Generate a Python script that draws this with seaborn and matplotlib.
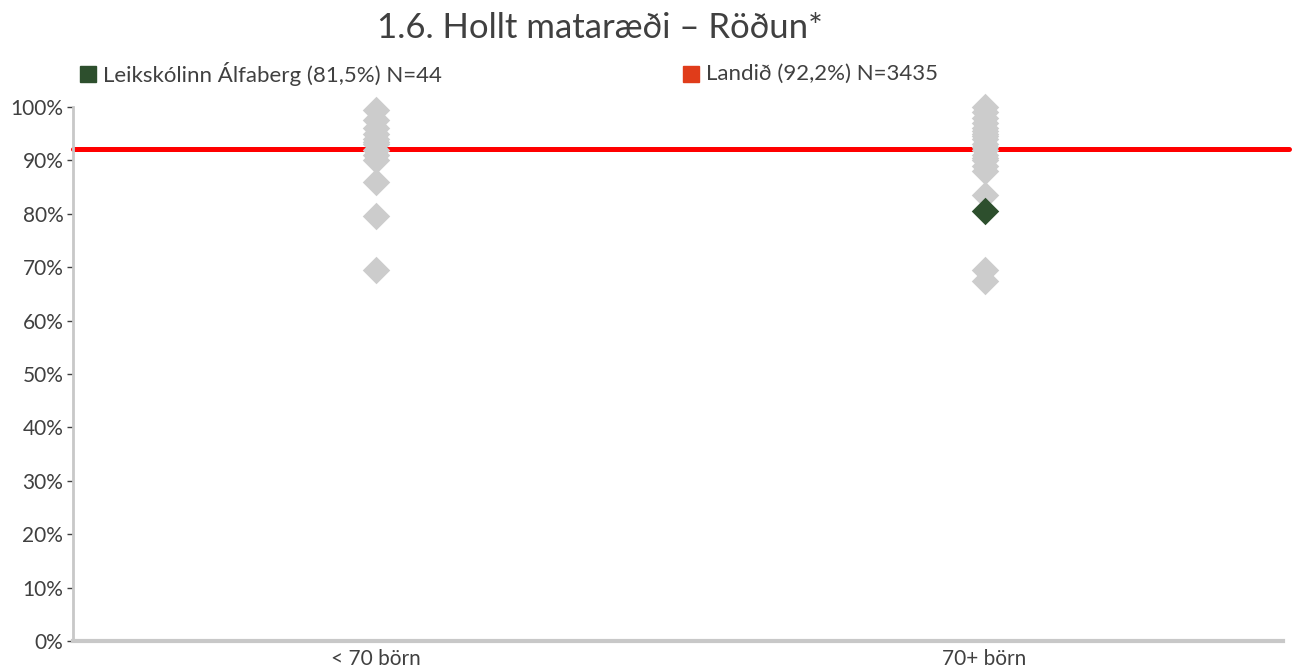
import numpy as np
import pandas as pd
import matplotlib
matplotlib.use("Agg")
import matplotlib.pyplot as plt
import seaborn as sns
from matplotlib.patches import Rectangle

# data
groups = ["< 70 börn", "70+ börn"]
small_vals = [99.5, 97.5, 96, 95, 94, 93.5, 93, 92, 91, 90, 86, 79.5, 69.5]
large_vals = [100, 99, 98, 97, 96, 95.5, 95, 94.5, 94, 93, 92.5, 92, 91,
              90.5, 90, 89, 88, 83.5, 69.5, 67.5]
school_group = "70+ börn"
school_val = 80.5
school_label = "Leikskólinn Álfaberg (81,5%) N=44"
country_val = 92.2
country_label = "Landið (92,2%) N=3435"
title = "1.6. Hollt mataræði – Röðun*"

df = pd.DataFrame({
    "group": [groups[0]] * len(small_vals) + [groups[1]] * len(large_vals),
    "value": small_vals + large_vals,
})
df_school = pd.DataFrame({"group": [school_group], "value": [school_val]})

sns.set_theme(style="white")
plt.rcParams["font.family"] = ["Lato", "DejaVu Sans"]
txt = "#404040"

fig = plt.figure(figsize=(12.95, 6.71), dpi=100)
ax = fig.add_axes([0.0564, 0.0447, 0.9343, 0.7958])

sns.stripplot(data=df, x="group", y="value", order=groups, jitter=False,
              marker="D", s=14, color="#cccccc", linewidth=0, ax=ax, zorder=3)
sns.stripplot(data=df_school, x="group", y="value", order=groups, jitter=False,
              marker="D", s=14, color="#2d4f2d", linewidth=0, ax=ax, zorder=4)
for coll in ax.collections:
    coll.set_clip_on(False)
ax.axhline(country_val, color="#ff0000", lw=3.6, xmax=1.005, clip_on=False, zorder=2)

ax.set_xlim(-0.497, 1.49)
ax.set_ylim(0, 100)
ax.set_yticks(np.arange(0, 101, 10))
ax.set_yticklabels([f"{v}%" for v in range(0, 101, 10)])
ax.set_xlabel("")
ax.set_ylabel("")
ax.tick_params(axis="y", length=4, width=1, color=txt, labelsize=15, labelcolor=txt, pad=3, left=True)
ax.tick_params(axis="x", length=0, labelsize=15, labelcolor=txt, pad=6)
for side in ["top", "right"]:
    ax.spines[side].set_visible(False)
ax.spines["left"].set_color("#c8c8c8")
ax.spines["left"].set_linewidth(2)
ax.spines["bottom"].set_color("#c8c8c8")
ax.spines["bottom"].set_linewidth(3)

W, H = 1295, 671
fig.text(600 / W, 1 - 28 / H, title, ha="center", va="center", fontsize=25, color=txt)

fig.patches.append(Rectangle((80 / W, 1 - 82 / H), 16 / W, 16 / H, transform=fig.transFigure,
                             color="#2d4f2d", figure=fig))
fig.text(103 / W, 1 - 74 / H, school_label, ha="left", va="center", fontsize=16, color=txt)
fig.patches.append(Rectangle((683 / W, 1 - 82 / H), 16 / W, 16 / H, transform=fig.transFigure,
                             color="#e03c1a", figure=fig))
fig.text(706 / W, 1 - 74 / H, country_label, ha="left", va="center", fontsize=16, color=txt)

fig.savefig("out.png", dpi=100)
